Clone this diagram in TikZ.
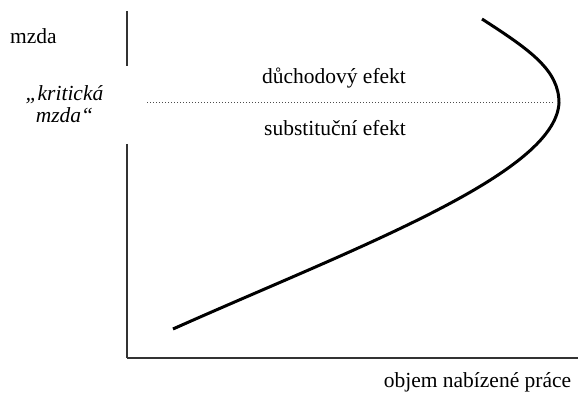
\documentclass[tikz,border=0pt]{standalone}
\usepackage{fontspec}
\setmainfont{Liberation Serif}
\begin{document}
\begin{tikzpicture}[x=1pt,y=-1pt,
  lbl/.style={inner sep=0pt,font=\fontsize{21.5}{22}\selectfont},
  axis/.style={line width=1.6pt,black!80},
  curve/.style={line width=3pt,black},
  crit/.style={dotted,line width=1pt,black!70}]
\useasboundingbox (0,0) rectangle (578,398);
% axes
\coordinate (ytop) at (127,11);
\coordinate (ymid1) at (127,66);
\coordinate (ymid2) at (127,144);
\coordinate (origin) at (127,358);
\coordinate (xend) at (578,358);
\draw[axis] (ytop) -- (ymid1);
\draw[axis] (ymid2) -- (origin);
\draw[axis] (origin) -- (xend);
% labels
\node[lbl] (mzda) at (33.5,36) {mzda};
\node[lbl,align=center,font=\fontsize{21.5}{22}\selectfont\itshape] (krit) at (64.5,104) {„kritická\\mzda“};
\node[lbl] (duch) at (334,78) {důchodový efekt};
\node[lbl] (subst) at (335,128) {substituční efekt};
\node[lbl] (objem) at (477.5,382) {objem nabízené práce};
% critical wage line
\coordinate (c1) at (147,103);
\coordinate (c2) at (553,103);
\draw[crit] (c1) -- (c2);
% labour supply curve
\coordinate (s0) at (173,329);
\coordinate (s1) at (559,103);
\coordinate (s2) at (482,19);
\draw[curve] (s0) .. controls (350,250) and (555,175) .. (s1)
  .. controls (559,70) and (530,50) .. (s2);
\end{tikzpicture}
\end{document}
